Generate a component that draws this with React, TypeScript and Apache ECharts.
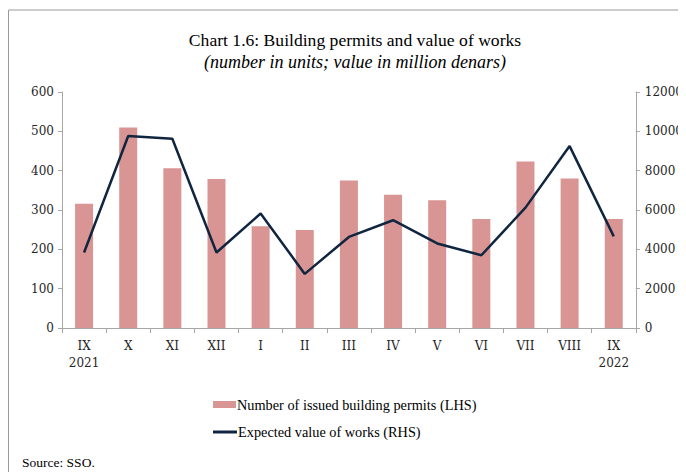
import React, { useEffect, useRef } from "react";
import * as echarts from "echarts";

const categories = ["IX\n2021", "X", "XI", "XII", "I", "II", "III", "IV", "V", "VI", "VII", "VIII", "IX\n2022"];
const permits = [316, 510, 406, 379, 259, 249, 375, 339, 325, 277, 423, 380, 277];
const valueOfWorks = [3840, 9760, 9620, 3840, 5820, 2750, 4630, 5480, 4300, 3700, 6120, 9250, 4660];
const leftTicks = { min: 0, max: 600, interval: 100 };
const rightTicks = { min: 0, max: 12000, interval: 2000 };

const titleText = "Chart 1.6: Building permits and value of works";
const subtitleText = "(number in units; value in million denars)";
const sourceText = "Source: SSO.";
const barName = "Number of issued building permits (LHS)";
const lineName = "Expected value of works (RHS)";

const BAR_COLOR = "#d99594";
const LINE_COLOR = "#0f2540";
const AXIS_COLOR = "#a6a6a6";
const LABEL_COLOR = "#262626";
const SERIF = "'Liberation Serif', 'Times New Roman', serif";
const LABEL_FONT = "'DejaVu Serif', serif";

export default function App() {
  const ref = useRef<HTMLDivElement>(null);
  useEffect(() => {
    if (!ref.current) return;
    const chart = echarts.init(ref.current, undefined, { renderer: "svg" });
    const axisLabel = { color: LABEL_COLOR, fontFamily: LABEL_FONT, fontSize: 12 };
    chart.setOption({
      animation: false,
      backgroundColor: "#ffffff",
      grid: { left: 54, right: 48, top: 84, bottom: 144 },
      graphic: [
        { type: "line", shape: { x1: 0.5, y1: 2, x2: 678, y2: 2 }, style: { stroke: "#9a9a9a", lineWidth: 1 } },
        { type: "line", shape: { x1: 0.5, y1: 2, x2: 0.5, y2: 464 }, style: { stroke: "#9a9a9a", lineWidth: 1 } },
        {
          type: "text", x: 347, y: 31.5,
          style: { text: titleText, fontFamily: SERIF, fontSize: 17.6, fill: "#000", textAlign: "center", textVerticalAlign: "middle" },
        },
        {
          type: "text", x: 347, y: 54,
          style: { text: subtitleText, fontFamily: SERIF, fontSize: 18, fontStyle: "italic", fill: "#000", textAlign: "center", textVerticalAlign: "middle" },
        },
        {
          type: "text", x: 14, y: 454,
          style: { text: sourceText, fontFamily: SERIF, fontSize: 13.5, fill: "#000", textAlign: "left", textVerticalAlign: "middle" },
        },
      ],
      legend: [
        {
          data: [barName], left: 205, top: 389.5, padding: 0, itemWidth: 23, itemHeight: 7, itemGap: 10,
          icon: "rect", textStyle: { fontFamily: SERIF, fontSize: 14.3, color: "#000", padding: [0, 0, 0, -4] },
        },
        {
          data: [lineName], left: 205, top: 417, padding: 0, itemWidth: 24, itemHeight: 3,
          icon: "rect", textStyle: { fontFamily: SERIF, fontSize: 14.3, color: "#000", padding: [0, 0, 0, -4] },
        },
      ],
      xAxis: {
        type: "category",
        data: categories,
        boundaryGap: true,
        axisLine: { show: true, lineStyle: { color: AXIS_COLOR, width: 1 } },
        axisTick: { show: true, length: 5, lineStyle: { color: AXIS_COLOR } },
        axisLabel: { ...axisLabel, margin: 9, lineHeight: 17, interval: 0 },
        splitLine: { show: false },
      },
      yAxis: [
        {
          type: "value", position: "left", ...leftTicks,
          axisLine: { show: true, lineStyle: { color: AXIS_COLOR, width: 1 } },
          axisTick: { show: true, length: 4, lineStyle: { color: AXIS_COLOR } },
          axisLabel: { ...axisLabel, margin: 8 },
          splitLine: { show: false },
        },
        {
          type: "value", position: "right", ...rightTicks,
          axisLine: { show: true, lineStyle: { color: AXIS_COLOR, width: 1 } },
          axisTick: { show: true, length: 4, lineStyle: { color: AXIS_COLOR } },
          axisLabel: { ...axisLabel, margin: 9, formatter: (v: number) => String(v) },
          splitLine: { show: false },
        },
      ],
      series: [
        {
          name: barName, type: "bar", yAxisIndex: 0, data: permits, barWidth: 18,
          itemStyle: { color: BAR_COLOR },
        },
        {
          name: lineName, type: "line", yAxisIndex: 1, data: valueOfWorks,
          showSymbol: false, symbol: "none",
          itemStyle: { color: LINE_COLOR },
          lineStyle: { color: LINE_COLOR, width: 2.5 },
        },
      ],
    });
    return () => chart.dispose();
  }, []);
  return <div ref={ref} style={{ width: 678, height: 464 }} />;
}
